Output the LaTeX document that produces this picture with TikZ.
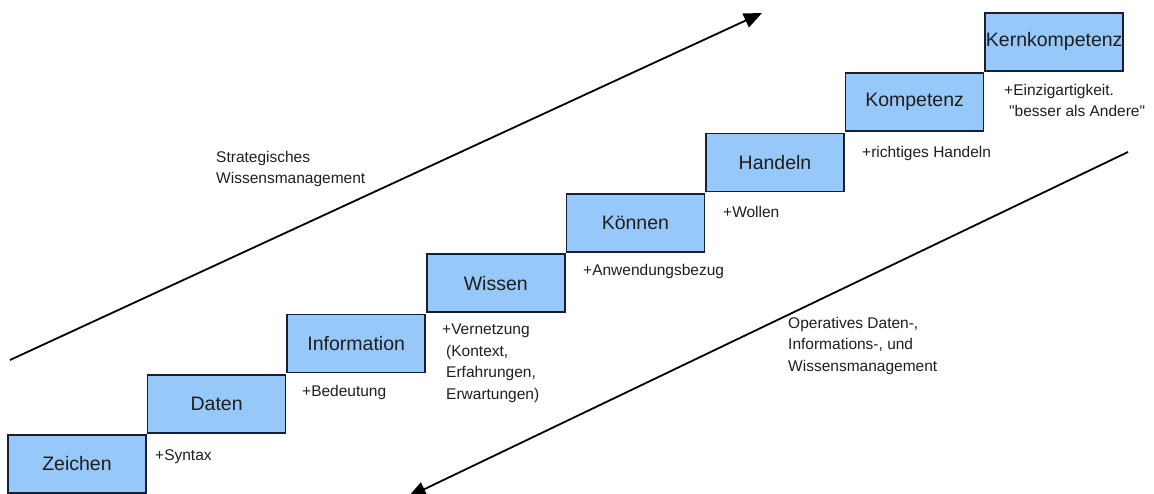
\documentclass[tikz,border=0pt]{standalone}
\usepackage{fontspec}
\setmainfont{Liberation Sans}
\usetikzlibrary{arrows.meta}
\definecolor{boxfill}{RGB}{150,200,250}
\definecolor{boxline}{RGB}{25,30,55}
\definecolor{txt}{RGB}{30,30,30}
\tikzset{
  stepbox/.style={draw=boxline, fill=boxfill, line width=1.6pt, minimum width=138pt, minimum height=58pt, inner sep=0pt, text=txt, font=\fontsize{19.5}{22}\selectfont},
  note/.style={anchor=north west, inner sep=0pt, align=left, text=txt, font=\fontsize{15.5}{21.5}\selectfont},
  bigarrow/.style={line width=1.8pt, -{Triangle[length=18pt,width=15pt]}}
}
\begin{document}
\begin{tikzpicture}[x=1pt,y=-1pt]
\useasboundingbox (0,0) rectangle (1154,494);
% arrows
\coordinate (s1) at (10,360);
\coordinate (s2) at (762,13);
\draw[bigarrow] (s1) -- (s2);
\coordinate (o1) at (1128,152);
\coordinate (o2) at (408,497);
\draw[bigarrow] (o1) -- (o2);
% boxes
\node[stepbox] (zeichen) at (77,464) {Zeichen};
\node[stepbox] (daten) at (216.6,403.7) {Daten};
\node[stepbox] (information) at (356.2,343.4) {Information};
\node[stepbox] (wissen) at (495.8,283.1) {Wissen};
\node[stepbox] (koennen) at (635.4,222.8) {Können};
\node[stepbox] (handeln) at (775,162.5) {Handeln};
\node[stepbox] (kompetenz) at (914.6,102.2) {Kompetenz};
\node[stepbox] (kern) at (1054.2,41.9) {Kernkompetenz};
% notes
\node[note] (n1) at (155,449) {+Syntax};
\node[note] (n2) at (302,385) {+Bedeutung};
\node[note] (n3) at (442,324) {+Vernetzung\\\hspace{4pt}(Kontext,\\\hspace{4pt}Erfahrungen,\\\hspace{4pt}Erwartungen)};
\node[note] (n4) at (583,264) {+Anwendungsbezug};
\node[note] (n5) at (723,206) {+Wollen};
\node[note] (n6) at (862,146) {+richtiges Handeln};
\node[note] (n7) at (1004,84) {+Einzigartigkeit.\\\hspace{5pt}\textquotedbl besser als Andere\textquotedbl};
\node[note] (strat) at (216,151) {Strategisches\\Wissensmanagement};
\node[note] (oper) at (788,317) {Operatives Daten-,\\Informations-, und\\Wissensmanagement};
\end{tikzpicture}
\end{document}
